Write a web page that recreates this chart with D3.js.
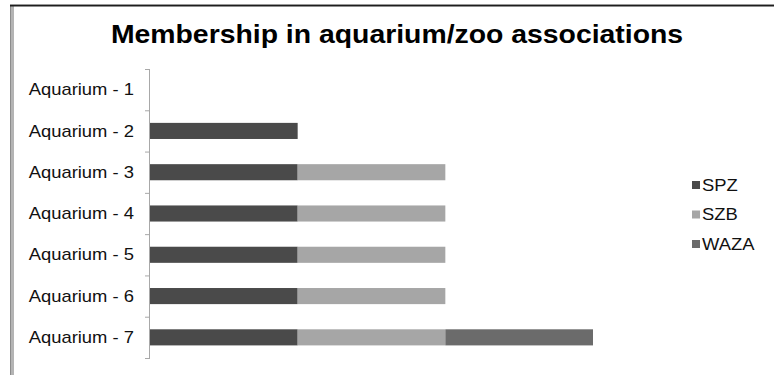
<!DOCTYPE html>
<html>
<head>
<meta charset="utf-8">
<script src="https://cdn.jsdelivr.net/npm/d3@7.9.0/dist/d3.min.js"></script>
<style>
  body { margin: 0; background: #fff; }
  svg { display: block; font-family: "Liberation Sans", Arial, sans-serif; }
</style>
</head>
<body>
<script>
// chart data
const categories = ["Aquarium - 1", "Aquarium - 2", "Aquarium - 3", "Aquarium - 4", "Aquarium - 5", "Aquarium - 6", "Aquarium - 7"];
const seriesNames = ["SPZ", "SZB", "WAZA"];
const spz  = [0, 1, 1, 1, 1, 1, 1];
const szb  = [0, 0, 1, 1, 1, 1, 1];
const waza = [0, 0, 0, 0, 0, 0, 1];
const colors = ["#4a4a4a", "#a6a6a6", "#6b6b6b"];

const width = 774, height = 375;
const stretch = 1.15; // the source picture is a bit wider than tall

const svg = d3.select("body").append("svg").attr("width", width).attr("height", height);

// frame (top and left edges of the cropped chart area)
svg.append("rect").attr("x", 10).attr("y", 6).attr("width", 4).attr("height", height - 6).attr("fill", "#b4b4b4");
svg.append("line").attr("x1", 10.5).attr("x2", 10.5).attr("y1", 5).attr("y2", height).attr("stroke", "#8c8c8c");
svg.append("line").attr("x1", 10).attr("x2", width).attr("y1", 4.5).attr("y2", 4.5).attr("stroke", "#999");
svg.append("line").attr("x1", 10).attr("x2", width).attr("y1", 5.75).attr("y2", 5.75).attr("stroke", "#1e1e1e").attr("stroke-width", 1.5);

// title
svg.append("text")
    .attr("transform", `translate(397,43) scale(1.135,1)`)
    .attr("text-anchor", "middle")
    .style("font-size", "25px").style("font-weight", "bold")
    .attr("fill", "#000")
    .text("Membership in aquarium/zoo associations");

const table = categories.map((c, i) => ({ cat: c, SPZ: spz[i], SZB: szb[i], WAZA: waza[i] }));
const stacked = d3.stack().keys(seriesNames)(table);

const y = d3.scaleBand().domain(categories).range([69, 358]).paddingInner(0.61).paddingOuter(0.305);
const x = d3.scaleLinear().domain([0, 3]).range([150, 593]);

// bars
svg.append("g").selectAll("g").data(stacked).join("g")
    .attr("fill", (d, i) => colors[i])
    .selectAll("rect").data(d => d.filter(p => p[1] > p[0])).join("rect")
    .attr("x", d => x(d[0]))
    .attr("y", d => y(d.data.cat))
    .attr("width", d => x(d[1]) - x(d[0]))
    .attr("height", y.bandwidth());

// category axis
const step = y.step();
const axisG = svg.append("g");
axisG.append("line").attr("x1", 149.5).attr("x2", 149.5).attr("y1", 69).attr("y2", 358).attr("stroke", "#a8a8a8");
axisG.selectAll("line.tick").data(d3.range(categories.length + 1)).join("line")
    .attr("class", "tick")
    .attr("x1", 145).attr("x2", 150)
    .attr("y1", i => 69.5 + i * step).attr("y2", i => 69.5 + i * step)
    .attr("stroke", "#a8a8a8");
axisG.selectAll("text").data(categories).join("text")
    .attr("transform", d => `translate(134,${y(d) + y.bandwidth() / 2}) scale(${stretch},1)`)
    .attr("dy", "0.35em")
    .attr("text-anchor", "end")
    .style("font-size", "16px")
    .attr("fill", "#111")
    .text(d => d);

// legend
const legend = svg.append("g").selectAll("g").data(seriesNames).join("g")
    .attr("transform", (d, i) => `translate(692, ${185 + i * 29.5})`);
legend.append("rect").attr("x", 0).attr("y", -4).attr("width", 8).attr("height", 8)
    .attr("fill", (d, i) => colors[i]);
legend.append("text").attr("transform", `translate(10,0) scale(${stretch},1)`).attr("dy", "0.35em")
    .style("font-size", "16px").attr("fill", "#111").text(d => d);
</script>
</body>
</html>
